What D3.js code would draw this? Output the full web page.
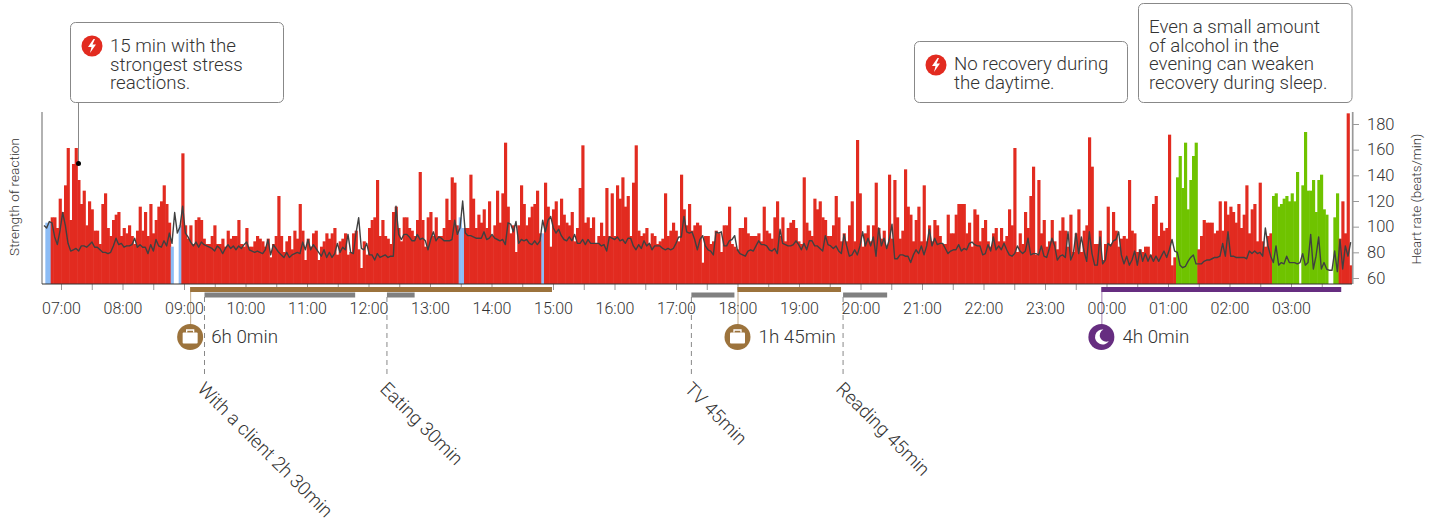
<!DOCTYPE html>
<html>
<head>
<meta charset="utf-8">
<script src="https://cdnjs.cloudflare.com/ajax/libs/d3/7.8.5/d3.min.js"></script>
<style>
  html, body { margin: 0; padding: 0; background: #fff; }
  svg { display: block; }
  text { font-family: Roboto, sans-serif; font-weight: 300; fill: #333; }
  .axis path { display: none; }
  .axis line { stroke: #999; }
</style>
</head>
<body>
<div id="chart"></div>
<script>
// reaction strength per epoch
const strength = [
  0,23,23,25,25,21,32,27,37,51,
  24,45,51,39,30,35,22,31,28,20,
  20,15,30,34,21,18,24,26,27,18,
  21,19,22,18,15,20,29,20,27,18,
  30,19,24,29,31,37,30,23,14,0,
  0,22,49,22,17,22,15,24,25,24,
  17,15,15,18,22,15,15,17,14,20,
  17,18,18,24,15,14,21,14,14,16,
  18,17,16,14,17,10,15,18,33,18,
  12,16,18,13,20,17,30,20,9,17,
  14,19,20,9,14,16,19,17,19,21,
  11,16,17,19,11,12,19,20,13,
  6,16,11,21,24,25,39,18,24,18,
  17,15,27,29,21,16,25,25,21,20,
  18,24,42,24,14,25,27,18,25,18,
  18,21,32,24,40,38,22,25,21,21,
  21,41,32,21,26,23,28,21,31,18,
  22,35,23,34,53,29,19,22,12,22,
  37,30,22,25,29,30,35,19,19,38,
  29,14,28,31,22,32,26,23,22,27,
  16,21,36,52,23,25,21,25,15,18,
  23,18,36,18,34,18,37,32,40,29,
  33,18,38,52,20,18,19,21,15,19,
  18,15,16,17,34,18,20,23,20,16,
  41,28,22,30,20,22,23,22,8,18,
  18,15,16,20,19,12,22,22,29,15,
  14,13,21,21,25,19,18,18,18,19,
  16,29,20,19,17,25,31,18,25,16,
  21,23,24,21,16,15,40,23,20,18,
  32,28,31,25,24,18,18,22,33,25,
  16,19,16,22,31,16,54,34,14,19,
  22,16,22,38,21,17,20,14,41,17,
  39,25,17,20,43,29,26,16,24,29,
  16,37,16,22,16,24,22,18,15,15,
  26,19,19,26,30,30,30,19,23,14,
  28,26,16,21,24,16,14,19,21,16,
  21,16,18,28,22,51,12,19,15,27,
  21,33,44,11,39,19,24,14,16,24,
  16,13,20,25,20,14,26,12,19,28,
  12,20,22,55,44,15,15,20,9,15,
  29,15,27,20,14,17,18,17,39,20,
  19,12,13,12,14,14,11,30,33,18,
  23,20,21,56,7,10,40,48,36,53,
  28,39,48,53,13,18,24,23,23,23,
  19,20,31,20,31,26,29,27,23,30,
  21,26,37,19,28,30,16,38,16,14,
  18,19,33,34,29,30,32,33,31,34,
  31,42,0,37,57,35,35,39,27,39,
  41,28,26,0,0,25,34,17,31,19,
  64,7
];

// heart rate (beats/min) at the same epochs
const heartRate = [
  101,99,104,103,92,86,97,111,101,87,
  81,82,83,81,85,85,84,86,88,84,
  84,82,80,80,79,80,85,91,86,87,
  84,85,85,86,91,84,86,84,84,79,
  86,81,90,85,84,89,85,95,87,111,
  95,100,116,95,92,88,85,88,84,88,
  86,85,84,83,81,85,83,79,83,86,
  83,85,82,85,83,86,88,82,81,80,
  81,80,79,82,90,78,86,83,80,78,
  76,80,76,78,79,80,79,88,82,90,
  82,86,83,80,77,82,76,80,76,79,
  87,80,84,82,94,80,79,95,107,
  83,82,87,78,78,74,79,76,77,78,
  76,77,77,116,94,90,94,94,92,89,
  89,94,90,91,89,82,90,96,89,92,
  91,89,89,89,90,105,94,99,120,95,
  93,93,92,91,91,91,96,90,91,94,
  91,90,89,90,86,103,102,96,104,87,
  90,89,90,87,86,89,86,89,105,96,
  105,108,99,95,98,93,90,89,92,89,
  94,87,87,90,86,90,87,87,87,87,
  85,86,81,92,91,90,92,89,90,87,
  91,91,85,82,86,83,89,85,87,82,
  85,85,85,83,82,83,82,83,87,92,
  92,108,96,95,96,90,82,90,93,85,
  82,81,78,96,95,96,85,85,89,90,
  93,82,79,78,77,81,82,81,85,89,
  86,86,85,82,81,83,79,98,87,86,
  85,85,86,89,86,82,87,82,89,89,
  85,85,83,81,93,86,85,83,85,81,
  79,94,85,77,78,82,78,85,96,85,
  91,85,92,77,99,85,91,83,90,102,
  75,75,78,78,77,77,72,78,82,79,
  85,78,85,98,85,91,86,87,87,83,
  79,81,82,82,86,81,83,82,87,88,
  86,85,85,78,79,86,81,92,82,85,
  82,87,82,78,77,79,85,81,79,81,
  91,78,79,79,78,85,77,76,83,91,
  85,74,77,78,76,96,74,79,95,79,
  92,81,73,96,79,70,70,92,71,74,
  87,85,89,90,96,78,71,77,70,74,
  81,70,82,73,79,73,78,73,77,73,
  77,81,76,82,90,81,80,70,68,69,
  73,76,78,71,71,71,73,74,74,75,
  76,76,77,87,77,96,77,77,76,76,
  76,76,75,81,79,81,79,80,77,99,
  85,77,72,85,70,72,71,77,72,72,
  72,71,72,79,70,72,94,67,77,92,
  67,72,67,66,66,81,65,90,67,85,
  77,88
];

// epochs not coloured as stress
const recoveryEpochs = [425,426,427,428,429,430,431,432,461,462,463,464,465,466,467,468,469,470,472,473,474,475,476,477,478,479,480,481,484,485];
const lightEpochs = [1,2,48,51,156,157,187];

const hrTicks = [60,80,100,120,140,160,180];
const hourLabels = ["07:00","08:00","09:00","10:00","11:00","12:00","13:00","14:00","15:00","16:00","17:00","18:00","19:00","20:00","21:00","22:00","23:00","00:00","01:00","02:00","03:00"];

// from, to
const workBlocks = [["09:06","14:59"],["18:00","19:41"]];
const sleepBlocks = [["23:55","03:49"]];
const activityBlocks = [["09:20","11:47"],["12:18","12:45"],["17:15","17:57"],["19:43","20:26"]];
const activityNames = ["With a client 2h 30min","Eating 30min","TV 45min","Reading 45min"];
const blockDurations = ["6h 0min","1h 45min","4h 0min"];

const calloutTexts = [
  ["15 min with the","strongest stress","reactions."],
  ["No recovery during","the daytime."],
  ["Even a small amount","of alcohol in the","evening can weaken","recovery during sleep."]
];

const dim = {width: 1439, height: 522, left: 42.67, right: 1352, top: 112, base: 284};
const colors = {stress: "#e22b20", recovery: "#6fc300", light: "#8cbcf5", line: "#404040", work: "#9c733c", sleep: "#662d80", activity: "#808080", frame: "#888"};

const svg = d3.select("#chart").append("svg")
  .attr("width", dim.width).attr("height", dim.height);

// clock strings before 06:00 belong to the next day
const parseClock = s => {
  const [h, m] = s.split(":").map(Number);
  return new Date(2020, 0, h < 6 ? 2 : 1, h, m);
};

const scale = {
  band: d3.scaleBand(d3.range(strength.length), [dim.left, dim.right]),
  strength: d3.scaleLinear([0, 64.5], [dim.base, dim.top]),
  hr: d3.scaleLinear([60, 180], [278, 124]),
  time: d3.scaleTime([parseClock("07:00"), parseClock("03:00")], [61, 1291])
};

function barColor(i) {
  if (recoveryEpochs.includes(i)) return colors.recovery;
  if (lightEpochs.includes(i)) return colors.light;
  return colors.stress;
}

// bars, a bit wider than the band so no seams show between them
svg.append("g").selectAll("rect")
  .data(strength)
  .join("rect")
    .attr("x", (d, i) => scale.band(i))
    .attr("y", d => scale.strength(d))
    .attr("width", scale.band.bandwidth() + 0.5)
    .attr("height", d => dim.base - scale.strength(d))
    .attr("fill", (d, i) => barColor(i));

// heart rate
svg.append("path")
  .datum(heartRate)
  .attr("fill", "none")
  .attr("stroke", colors.line)
  .attr("stroke-width", 1.4)
  .attr("stroke-linejoin", "round")
  .attr("d", d3.line()
    .x((d, i) => scale.band(i) + scale.band.bandwidth() / 2)
    .y(d => scale.hr(d)));

// frame lines
svg.append("line").attr("x1", 42).attr("x2", 42).attr("y1", dim.top).attr("y2", dim.base)
  .attr("stroke", "#999").attr("stroke-width", 1.5);
svg.append("line").attr("x1", 1352.7).attr("x2", 1352.7).attr("y1", dim.top).attr("y2", dim.base)
  .attr("stroke", "#999").attr("stroke-width", 1.7);

// time axis
const halfHours = d3.timeMinute.every(30).range(parseClock("07:00"), parseClock("03:45"));
svg.append("g").attr("class", "axis")
  .attr("transform", `translate(0 ${dim.base})`)
  .call(d3.axisBottom(scale.time)
    .tickValues(halfHours)
    .tickSize(6)
    .tickPadding(13)
    .tickFormat(d => d.getMinutes() === 0 ? hourLabels[halfHours.indexOf(d) / 2] : ""))
  .call(g => g.selectAll("text").attr("font-size", 16));
svg.append("line").attr("x1", 42).attr("x2", dim.right).attr("y1", dim.base).attr("y2", dim.base)
  .attr("stroke", "#333").attr("stroke-width", 1.2);

// heart rate axis
svg.append("g").attr("class", "axis")
  .attr("transform", "translate(1352 0)")
  .call(d3.axisRight(scale.hr).tickValues(hrTicks).tickSize(7).tickPadding(8))
  .call(g => g.selectAll("text").attr("font-size", 16.5));

svg.append("text").text("Strength of reaction")
  .attr("transform", "translate(18.5 197) rotate(-90)")
  .attr("text-anchor", "middle").attr("font-size", 13.6);
svg.append("text").text("Heart rate (beats/min)")
  .attr("transform", "translate(1421 199) rotate(-90)")
  .attr("text-anchor", "middle").attr("font-size", 13.4);

// work and sleep blocks
const blockRows = [
  ...workBlocks.map(b => ({b, color: colors.work})),
  ...sleepBlocks.map(b => ({b, color: colors.sleep}))
];
blockRows.forEach((row, i) => {
  const x0 = scale.time(parseClock(row.b[0]));
  const x1 = scale.time(parseClock(row.b[1]));
  svg.append("rect").attr("x", x0).attr("y", 287).attr("width", x1 - x0).attr("height", 5).attr("fill", row.color);
  svg.append("line").attr("x1", x0 + 0.5).attr("x2", x0 + 0.5).attr("y1", 287).attr("y2", 325)
    .attr("stroke", row.color).attr("stroke-opacity", 0.6);
  svg.append("circle").attr("cx", x0).attr("cy", 337).attr("r", 13).attr("fill", row.color);
  if (row.color === colors.work) {
    const icon = svg.append("g").attr("transform", `translate(${x0} 337)`).attr("fill", "#fff");
    icon.append("rect").attr("x", -7.5).attr("y", -4.5).attr("width", 15).attr("height", 11).attr("rx", 1);
    icon.append("path").attr("d", "M-3.5 -4.5V-7H3.5V-4.5").attr("fill", "none").attr("stroke", "#fff").attr("stroke-width", 1.3);
  } else {
    svg.append("path").attr("transform", `translate(${x0} 337)`).attr("fill", "#fff")
      .attr("d", "M2 -7.5A7.5 7.5 0 1 0 7.5 4A6.2 6.2 0 0 1 2 -7.5Z");
  }
  svg.append("text").text(blockDurations[i])
    .attr("x", x0 + 21).attr("y", 343).attr("font-size", 18.8);
});

// activities
activityBlocks.forEach((b, i) => {
  const x0 = scale.time(parseClock(b[0]));
  const x1 = scale.time(parseClock(b[1]));
  svg.append("rect").attr("x", x0).attr("y", 292.5).attr("width", x1 - x0).attr("height", 5).attr("fill", colors.activity);
  svg.append("line").attr("x1", x0).attr("x2", x0).attr("y1", 297).attr("y2", 378)
    .attr("stroke", "#888").attr("stroke-dasharray", "5 4");
  svg.append("text").text(activityNames[i])
    .attr("transform", `translate(${x0 - 8} 390) rotate(45)`)
    .attr("font-size", 18.7);
});

// callouts
const callouts = [
  {x: 70.5, y: 22.5, w: 213, h: 80, textX: 110, firstLine: 52, icon: [92, 46]},
  {x: 914.5, y: 41.5, w: 213, h: 61, textX: 954, firstLine: 70, icon: [936, 65]},
  {x: 1138.5, y: 3.5, w: 213.5, h: 99, textX: 1149, firstLine: 33, icon: null}
];
callouts.forEach((c, i) => {
  svg.append("rect").attr("x", c.x).attr("y", c.y).attr("width", c.w).attr("height", c.h).attr("rx", 5)
    .attr("fill", "#fff").attr("stroke", colors.frame);
  svg.append("text").attr("font-size", 18.7).selectAll("tspan")
    .data(calloutTexts[i])
    .join("tspan")
      .attr("x", c.textX)
      .attr("y", (d, j) => c.firstLine + j * 18.7)
      .text(d => d);
  if (c.icon) {
    svg.append("circle").attr("cx", c.icon[0]).attr("cy", c.icon[1]).attr("r", 10.5).attr("fill", colors.stress);
    svg.append("path").attr("transform", `translate(${c.icon[0]} ${c.icon[1]})`).attr("fill", "#fff")
      .attr("d", "M1.5 -7L-4 1H-0.5L-2 7L4 -1.5H0.5L3 -7Z");
  }
});

// pointer for first callout
svg.append("line").attr("x1", 78.5).attr("x2", 78.5).attr("y1", 102.5).attr("y2", 163)
  .attr("stroke", colors.frame);
svg.append("circle").attr("cx", 78.5).attr("cy", 163.5).attr("r", 2.5).attr("fill", "#000");
</script>
</body>
</html>
